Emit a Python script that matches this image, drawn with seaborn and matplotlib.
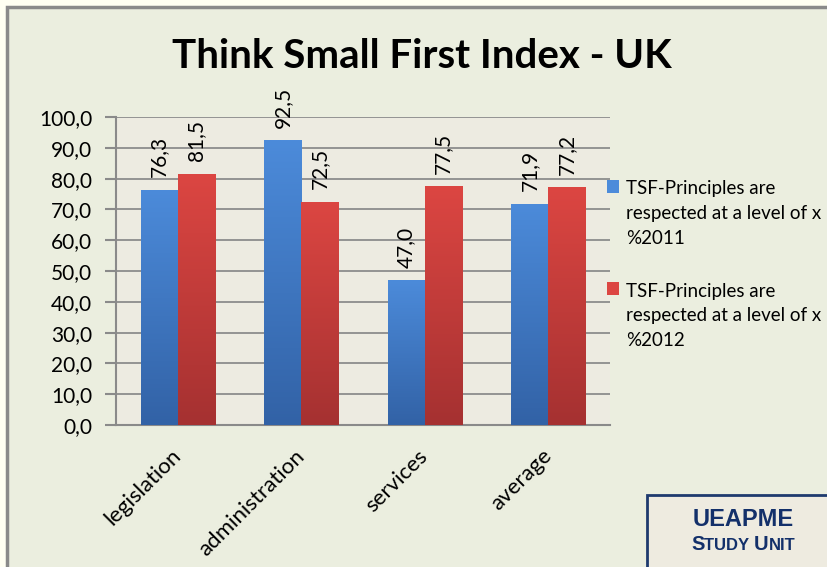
import numpy as np
import pandas as pd
import matplotlib.pyplot as plt
import seaborn as sns
from matplotlib.patches import Patch, Rectangle
from matplotlib.offsetbox import TextArea, HPacker, AnnotationBbox

# chart data
categories = ['legislation', 'administration', 'services', 'average']
values_2011 = [76.3, 92.5, 47.0, 71.9]
values_2012 = [81.5, 72.5, 77.5, 77.2]
series_labels = ['TSF-Principles are\nrespected at a level of x\n%2011',
                 'TSF-Principles are\nrespected at a level of x\n%2012']
y_ticks = [0, 10, 20, 30, 40, 50, 60, 70, 80, 90, 100]

df = pd.DataFrame({
    'category': categories * 2,
    'value': values_2011 + values_2012,
    'series': [series_labels[0]] * 4 + [series_labels[1]] * 4,
})

sns.set_style('white')
plt.rcParams['font.family'] = ['Lato', 'DejaVu Sans']
plt.rcParams['text.color'] = 'black'
plt.rcParams['xtick.color'] = 'black'
plt.rcParams['ytick.color'] = 'black'

blue_top, blue_bot = '#4C8BDA', '#3262A6'
red_top, red_bot = '#DC4642', '#A53131'
navy = '#13306A'

fig = plt.figure(figsize=(8.27, 5.67), dpi=100, facecolor='#FFFFF2')
# inner panel with grey frame
fig.patches.append(Rectangle((7 / 827, -0.05), 1.0, 1 - 7 / 567 + 0.05, transform=fig.transFigure,
                             facecolor='#EBEEDF', edgecolor='#8A8A8A', linewidth=2.5, zorder=-2))

ax = fig.add_axes([116 / 827, 1 - 425 / 567, (610 - 116) / 827, (425 - 117) / 567])
ax.set_zorder(1)
ax.set_facecolor('#EDEBE1')

sns.barplot(data=df, x='category', y='value', hue='series', order=categories,
            hue_order=series_labels, palette=[blue_top, red_top], width=0.6,
            saturation=1, ax=ax, legend=False, zorder=3)

# vertical gradient on each bar
grad = np.linspace(0, 1, 256).reshape(-1, 1)
n = len(categories)
for i, patch in enumerate(ax.patches[:2 * n]):
    top, bot = (blue_top, blue_bot) if i < n else (red_top, red_bot)
    cmap = sns.blend_palette([bot, top], as_cmap=True)
    x0, y0 = patch.get_x(), patch.get_y()
    w, h = patch.get_width(), patch.get_height()
    im = ax.imshow(grad, cmap=cmap, origin='lower', aspect='auto',
                   extent=(x0, x0 + w, y0, y0 + h), zorder=3.5)
    im.set_clip_path(patch)
    patch.set_edgecolor('none')

for cont in ax.containers:
    ax.bar_label(cont, labels=[f'{v:.1f}'.replace('.', ',') for v in cont.datavalues],
                 rotation=90, padding=9, fontsize=15, color='black')

ax.set_xlim(-0.5, n - 0.5)
ax.set_ylim(0, 100)
ax.set_yticks(y_ticks)
ax.set_yticklabels([f'{t:.1f}'.replace('.', ',') for t in y_ticks], fontsize=15)
ax.yaxis.grid(True, color='#8C8C8C', linewidth=1.3, zorder=1)
ax.set_axisbelow(True)
ax.set_xlabel('')
ax.set_ylabel('')

# category ticks between groups
ax.set_xticks(np.arange(-0.5, n, 1.0))
ax.set_xticklabels([])
ax.set_xticks(np.arange(n), minor=True)
ax.set_xticklabels(categories, minor=True, rotation=45, ha='right', va='center',
                   rotation_mode='anchor', fontsize=16)
ax.tick_params(axis='x', which='minor', length=0, pad=20)
ax.tick_params(axis='x', which='major', length=8, width=1.5, color='#8A8A8A', direction='out')
ax.tick_params(axis='y', length=8, width=1.5, color='#8A8A8A', direction='out', pad=9, left=True)

for side in ['top', 'right']:
    ax.spines[side].set_visible(False)
for side in ['left', 'bottom']:
    ax.spines[side].set_color('#8A8A8A')
    ax.spines[side].set_linewidth(1.5)

fig.text(0.51, 1 - 57 / 567, 'Think Small First Index - UK', ha='center', va='center',
         fontsize=29, fontweight='bold', color='black')

handles = [Patch(facecolor=blue_top, edgecolor='none'), Patch(facecolor=red_top, edgecolor='none')]
leg = fig.legend(handles, series_labels, loc='upper left', bbox_to_anchor=(599 / 827, 1 - 173 / 567),
                 frameon=False, fontsize=13.5, handlelength=0.65, handleheight=0.65,
                 handletextpad=0.4, labelspacing=1.9, borderaxespad=0)
for t in leg.get_texts():
    t.set_linespacing(1.55)
for h in leg.legend_handles:
    h.set_y(h.get_y() + 20)

# logo box
fig.patches.append(Rectangle((647 / 827, -0.05), 0.3, 1 - 495 / 567 + 0.05, transform=fig.transFigure,
                             facecolor='#EEEBE0', edgecolor='#1E3A6E', linewidth=2, zorder=5))
fig.text(743 / 827, 1 - 519 / 567, 'UEAPME', ha='center', va='center', fontsize=17,
         fontweight='bold', color=navy, family='Liberation Sans', zorder=6)

big = dict(color=navy, fontsize=14.5, fontweight='bold', family='Liberation Sans')
small = dict(color=navy, fontsize=12, fontweight='bold', family='Liberation Sans')
parts = [TextArea('S', textprops=big), TextArea('TUDY ', textprops=small),
         TextArea('U', textprops=big), TextArea('NIT', textprops=small)]
pack = HPacker(children=parts, align='baseline', pad=0, sep=0)
ab = AnnotationBbox(pack, (743 / 827, 1 - 544 / 567), xycoords='figure fraction',
                    frameon=False, box_alignment=(0.5, 0.5), zorder=6)
fig.add_artist(ab)

fig.savefig('out.png', dpi=100, facecolor=fig.get_facecolor())
